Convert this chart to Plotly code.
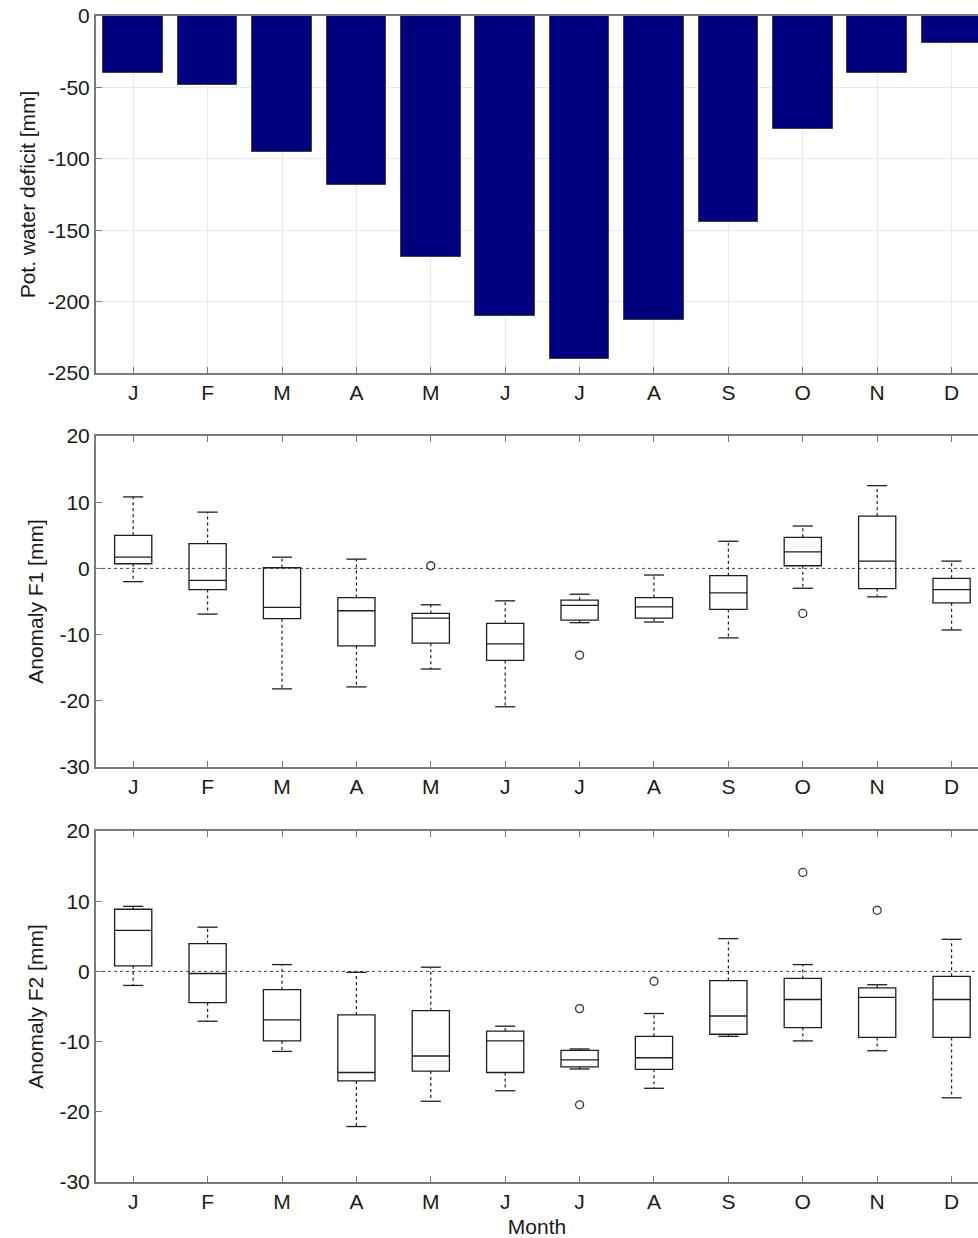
import plotly.graph_objects as go

months = ["J", "F", "M", "A", "M", "J", "J", "A", "S", "O", "N", "D"]
month_idx = list(range(1, 13))

# Top panel: potential water deficit [mm]
deficit = [-40, -48, -95, -118, -169, -210, -240, -213, -144, -79, -40, -19]
deficit_ticks = [-250, -200, -150, -100, -50, 0]

# Middle panel: Anomaly F1 box statistics
f1_low = [-2.0, -6.9, -18.2, -17.9, -15.2, -20.9, -8.2, -8.1, -10.5, -3.0, -4.3, -9.3]
f1_q1 = [0.7, -3.2, -7.6, -11.7, -11.3, -13.9, -7.8, -7.5, -6.2, 0.4, -3.05, -5.2]
f1_med = [1.7, -1.8, -5.9, -6.4, -7.5, -11.4, -5.6, -5.8, -3.7, 2.5, 1.1, -3.2]
f1_q3 = [5.0, 3.75, 0.1, -4.4, -6.8, -8.3, -4.8, -4.4, -1.1, 4.7, 7.9, -1.5]
f1_high = [10.8, 8.5, 1.7, 1.4, -5.5, -4.9, -3.9, -1.0, 4.1, 6.4, 12.5, 1.1]
f1_out_month = [5, 7, 10]
f1_out_val = [0.4, -13.1, -6.8]

# Bottom panel: Anomaly F2 box statistics
f2_low = [-2.0, -7.1, -11.4, -22.1, -18.5, -17.0, -13.9, -16.65, -9.25, -9.9, -11.3, -18.0]
f2_q1 = [0.8, -4.45, -9.9, -15.6, -14.2, -14.4, -13.6, -13.95, -8.95, -8.0, -9.4, -9.4]
f2_med = [5.85, -0.3, -6.9, -14.4, -12.05, -9.9, -12.6, -12.3, -6.35, -4.0, -3.7, -4.0]
f2_q3 = [8.85, 3.95, -2.6, -6.2, -5.6, -8.5, -11.25, -9.25, -1.3, -1.0, -2.35, -0.7]
f2_high = [9.27, 6.3, 0.97, -0.13, 0.6, -7.8, -11.05, -6.0, 4.67, 0.97, -1.9, 4.57]
f2_out_month = [7, 7, 8, 10, 11]
f2_out_val = [-5.3, -19.0, -1.4, 14.1, 8.7]

anomaly_ticks = [-30, -20, -10, 0, 10, 20]

FONT = "Liberation Sans, Arial, sans-serif"
AXIS_COLOR = "#7a7a7a"
TEXT_COLOR = "#1a1a1a"
BOX_COLOR = "#1e1e1e"
FS = 21
W, H = 978, 1238

fig = go.Figure()

fig.add_trace(go.Bar(x=month_idx, y=deficit, width=0.8,
                     marker=dict(color="#000080", line=dict(color="#404040", width=1)),
                     xaxis="x", yaxis="y", showlegend=False))


def add_boxes(xa, ya, low, q1, med, q3, high, out_m, out_v):
    fig.add_trace(go.Box(x=month_idx, q1=q1, median=med, q3=q3,
                         lowerfence=q1, upperfence=q3, width=0.5,
                         whiskerwidth=0, boxpoints=False,
                         line=dict(color=BOX_COLOR, width=1.3),
                         fillcolor="rgba(0,0,0,0)",
                         xaxis=xa, yaxis=ya, showlegend=False))
    wx, wy = [], []
    for i, m in enumerate(month_idx):
        wx += [m, m, None, m, m, None]
        wy += [q3[i], high[i], None, q1[i], low[i], None]
    fig.add_trace(go.Scatter(x=wx, y=wy, mode="lines",
                             line=dict(color=BOX_COLOR, width=1.2, dash="dot"),
                             xaxis=xa, yaxis=ya, showlegend=False, hoverinfo="skip"))
    hw = 0.135
    cx, cy = [], []
    for i, m in enumerate(month_idx):
        cx += [m - hw, m + hw, None, m - hw, m + hw, None]
        cy += [high[i], high[i], None, low[i], low[i], None]
    fig.add_trace(go.Scatter(x=cx, y=cy, mode="lines",
                             line=dict(color=BOX_COLOR, width=1.3),
                             xaxis=xa, yaxis=ya, showlegend=False, hoverinfo="skip"))
    fig.add_trace(go.Scatter(x=out_m, y=out_v, mode="markers",
                             marker=dict(symbol="circle-open", size=8,
                                         color="#333333", line=dict(width=1.3)),
                             xaxis=xa, yaxis=ya, showlegend=False))


add_boxes("x2", "y2", f1_low, f1_q1, f1_med, f1_q3, f1_high, f1_out_month, f1_out_val)
add_boxes("x3", "y3", f2_low, f2_q1, f2_med, f2_q3, f2_high, f2_out_month, f2_out_val)

for ya, xa in (("y2", "x2"), ("y3", "x3")):
    fig.add_shape(type="line", xref=xa + " domain", yref=ya, x0=0, x1=1, y0=0, y1=0,
                  line=dict(color="#444444", width=1, dash="dot"), layer="below")


def dom(top_px, bot_px):
    return [1 - bot_px / H, 1 - top_px / H]


def labels(vals):
    return [str(v) for v in vals]


xcommon = dict(range=[0.5, 12.355], tickvals=month_idx, ticktext=months,
               ticks="inside", ticklen=6, tickcolor=AXIS_COLOR, tickwidth=1,
               showline=True, linecolor=AXIS_COLOR, linewidth=2, mirror="ticks",
               zeroline=False, tickfont=dict(size=FS, color=TEXT_COLOR, family=FONT),
               automargin=False, ticklabeloverflow="allow")
ycommon = dict(ticks="inside", ticklen=6, tickcolor=AXIS_COLOR, tickwidth=1,
               showline=True, linecolor=AXIS_COLOR, linewidth=2, mirror=False,
               zeroline=False, tickfont=dict(size=FS, color=TEXT_COLOR, family=FONT),
               automargin=False, ticklabeloverflow="allow")

fig.update_layout(
    width=W, height=H,
    margin=dict(l=96, r=0, t=0, b=0),
    paper_bgcolor="white", plot_bgcolor="white",
    font=dict(family=FONT, color=TEXT_COLOR, size=FS),
    bargap=0,
    xaxis=dict(xcommon, anchor="y", domain=[0, 1], showgrid=True, gridcolor="#e8e8e8",
               mirror=True),
    yaxis=dict(ycommon, anchor="x", domain=dom(16, 373), range=[-250, 0],
               tickvals=deficit_ticks, ticktext=labels(deficit_ticks),
               showgrid=True, gridcolor="#e8e8e8",
               title=dict(text="Pot. water deficit [mm]", standoff=6,
                          font=dict(size=FS, color=TEXT_COLOR))),
    xaxis2=dict(xcommon, anchor="y2", domain=[0, 1], showgrid=False),
    yaxis2=dict(ycommon, anchor="x2", domain=dom(436, 767), range=[-30, 20],
                tickvals=anomaly_ticks, ticktext=labels(anomaly_ticks), showgrid=False,
                title=dict(text="Anomaly F1 [mm]", standoff=10,
                           font=dict(size=FS, color=TEXT_COLOR))),
    xaxis3=dict(xcommon, anchor="y3", domain=[0, 1], showgrid=False,
                title=dict(text="Month", standoff=9, font=dict(size=FS, color=TEXT_COLOR))),
    yaxis3=dict(ycommon, anchor="x3", domain=dom(831, 1182), range=[-30, 20],
                tickvals=anomaly_ticks, ticktext=labels(anomaly_ticks), showgrid=False,
                title=dict(text="Anomaly F2 [mm]", standoff=10,
                           font=dict(size=FS, color=TEXT_COLOR))),
)

# remove the default 8px page margin so the figure fills the window exactly
fig.write_html("out.html", config={"displayModeBar": False},
               post_script="document.body.style.margin='0';document.body.style.overflow='hidden';")
